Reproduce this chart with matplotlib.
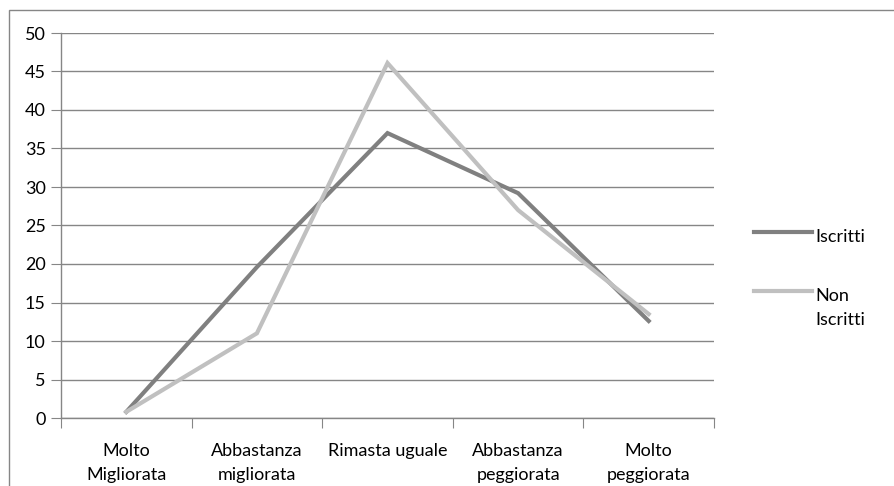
import matplotlib
matplotlib.use("Agg")
import matplotlib.pyplot as plt
from matplotlib.patches import Rectangle
from matplotlib.lines import Line2D

plt.rcParams['font.family'] = ['Lato', 'DejaVu Sans']

categories = ["Molto\nMigliorata", "Abbastanza\nmigliorata", "Rimasta uguale",
              "Abbastanza\npeggiorata", "Molto\npeggiorata"]
series_names = ["Iscritti", "Non\nIscritti"]
iscritti = [0.8, 19.6, 37.0, 29.2, 12.6]
non_iscritti = [0.8, 11.0, 46.1, 27.0, 13.5]
y_ticks = [0, 5, 10, 15, 20, 25, 30, 35, 40, 45, 50]

DARK, LIGHT, GRID = "#808080", "#c0c0c0", "#868686"
FS = 13

W, H = 894, 486
fig = plt.figure(figsize=(W / 100, H / 100), dpi=100)

# outer chart frame
fig.patches.append(Rectangle((9 / W, -0.01), 1.02, 1 - 10 / H + 0.01,
                             transform=fig.transFigure, fill=False,
                             edgecolor=GRID, linewidth=1.0))

ax = fig.add_axes([61 / W, (H - 418) / H, (714 - 61) / W, (418 - 33) / H])

x = list(range(len(categories)))
ax.plot(x, iscritti, color=DARK, linewidth=3.0, solid_joinstyle="miter", zorder=3)
ax.plot(x, non_iscritti, color=LIGHT, linewidth=3.0, solid_joinstyle="miter", zorder=3)

ax.set_xlim(-0.5, len(categories) - 0.5)
ax.set_ylim(0, 50)
ax.set_yticks(y_ticks)
ax.set_yticklabels([str(v) for v in y_ticks], fontsize=FS)
ax.yaxis.grid(True, color=GRID, linewidth=1.0)
ax.set_axisbelow(True)

ax.set_xticks([i - 0.5 for i in range(len(categories) + 1)])
ax.set_xticklabels([])
ax.set_xticks(x, minor=True)
ax.set_xticklabels(categories, minor=True, fontsize=FS, linespacing=1.64)
ax.tick_params(axis="x", which="minor", length=0, pad=18)
ax.tick_params(axis="x", which="major", length=7, color=GRID, direction="out")
ax.tick_params(axis="y", length=7, color=GRID, direction="out", pad=4)

for side in ("top", "right"):
    ax.spines[side].set_visible(False)
for side in ("left", "bottom"):
    ax.spines[side].set_color(GRID)
    ax.spines[side].set_linewidth(1.0)

# legend on the right
for name, color, ypix in zip(series_names, [DARK, LIGHT], [232, 291]):
    yf = 1 - ypix / H
    fig.add_artist(Line2D([754 / W, 812 / W], [yf, yf], color=color,
                          linewidth=3.0, transform=fig.transFigure))
    fig.text(815 / W, 1 - (ypix - 3) / H, name, fontsize=FS, va="top",
             ha="left", linespacing=1.64)

fig.savefig("out.png", dpi=100, facecolor="white")
